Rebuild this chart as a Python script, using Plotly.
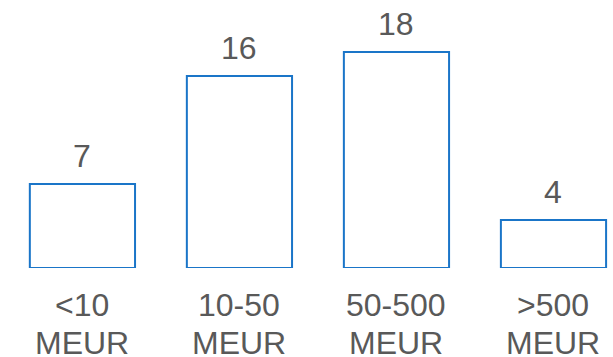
import plotly.graph_objects as go

categories = ["<10", "10-50", "50-500", ">500"]
unit_labels = ["MEUR", "MEUR", "MEUR", "MEUR"]
counts = [7, 16, 18, 4]

text_color = "#595959"
bar_color = "#1a75c8"
font_family = "Liberation Sans, Arial, sans-serif"

x_pos = list(range(len(categories)))

fig = go.Figure(
    go.Bar(
        x=x_pos,
        y=counts,
        width=0.67,
        marker=dict(color="white", line=dict(color=bar_color, width=2)),
        hoverinfo="skip",
    )
)

annotations = []
for i, (cat, unit, val) in enumerate(zip(categories, unit_labels, counts)):
    annotations.append(dict(
        x=i, y=val, xref="x", yref="y", text=str(val), showarrow=False,
        yanchor="bottom", yshift=8,
        font=dict(size=32, color=text_color, family=font_family),
    ))
    annotations.append(dict(
        x=i, y=0, xref="x", yref="y", text=cat, showarrow=False,
        yanchor="middle", yshift=-37,
        font=dict(size=32, color=text_color, family=font_family),
    ))
    annotations.append(dict(
        x=i, y=0, xref="x", yref="y", text=unit, showarrow=False,
        yanchor="middle", yshift=-75,
        font=dict(size=32, color=text_color, family=font_family),
    ))

fig.update_layout(
    width=613, height=357,
    margin=dict(l=0, r=0, t=0, b=89),
    paper_bgcolor="white", plot_bgcolor="white",
    showlegend=False,
    xaxis=dict(range=[-0.525, 3.379], visible=False, fixedrange=True),
    yaxis=dict(range=[0, 22.33], visible=False, fixedrange=True),
    annotations=annotations,
)

fig.write_html("out.html")
